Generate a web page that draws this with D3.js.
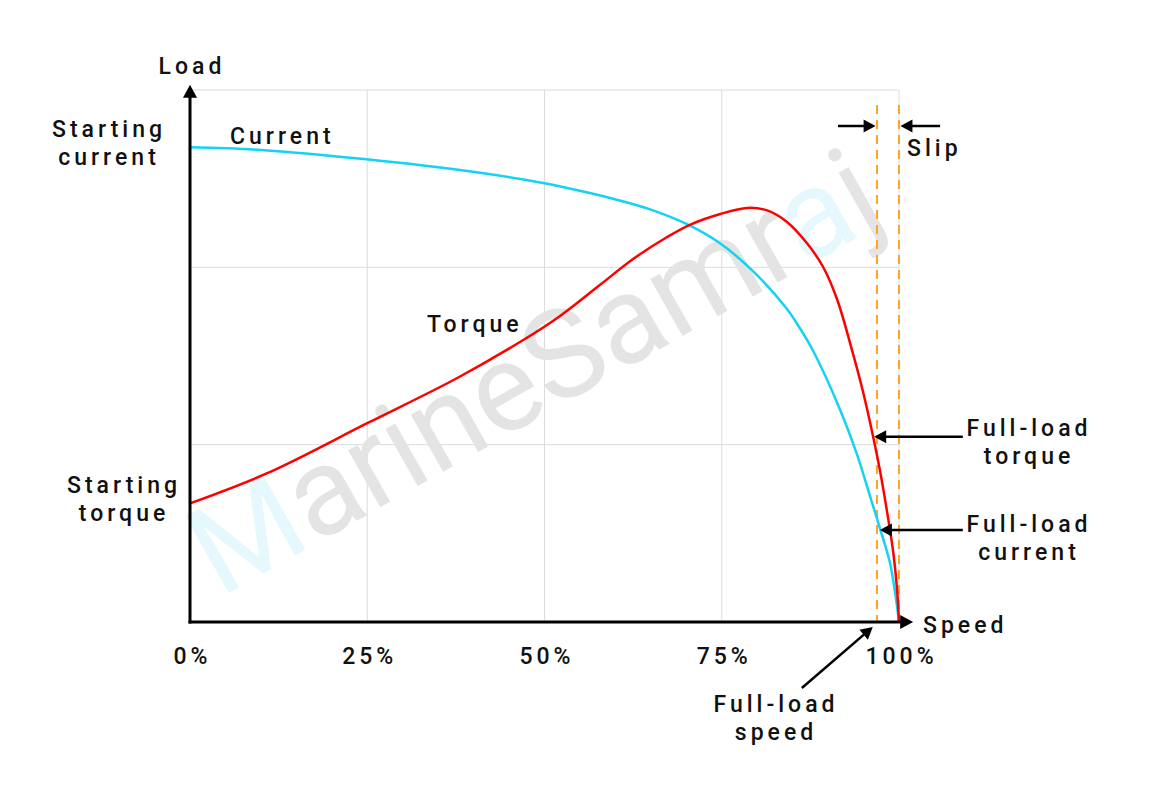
<!DOCTYPE html>
<html>
<head>
<meta charset="utf-8">
<script src="https://cdn.jsdelivr.net/npm/d3@7"></script>
<style>
  body { margin: 0; background: #fff; }
  text { font-family: Roboto, "Open Sans", sans-serif; }
</style>
</head>
<body>
<div id="graph"></div>
<script>
/* motor load vs speed curves */
const speedTicks = [0, 25, 50, 75, 100];
const loadGrid = [1, 2, 3];

const currentSpeed = [0, 10.0, 24.9, 39.9, 49.8, 56.4, 60.6, 64.9, 70.1, 74.8, 79.4, 84.2, 86.0, 87.9, 91.7, 94.1, 95.9, 97.3, 98.7, 99.5, 100];
const currentLoad = [2.677, 2.662, 2.609, 2.539, 2.476, 2.419, 2.377, 2.327, 2.243, 2.134, 1.979, 1.765, 1.658, 1.528, 1.196, 0.942, 0.711, 0.530, 0.338, 0.152, 0];

const torqueSpeed = [0, 10.9, 25.0, 37.7, 47.0, 52.2, 57.8, 62.5, 67.3, 70.5, 74.8, 78.6, 81.4, 84.2, 87.0, 89.3, 91.3, 93.1, 94.9, 96.3, 97.3, 98.3, 99.2, 99.7, 100];
const torqueLoad = [0.669, 0.839, 1.121, 1.376, 1.590, 1.726, 1.900, 2.047, 2.171, 2.240, 2.301, 2.335, 2.321, 2.256, 2.137, 2.002, 1.816, 1.573, 1.303, 1.055, 0.857, 0.626, 0.389, 0.197, 0];

const fullLoadSpeed = 96.9;
const syncSpeed = 100;
const fullLoadTorque = 1.045;
const fullLoadCurrent = 0.519;

window.addEventListener("DOMContentLoaded", main)

function main() {
    const W = 1152, H = 796;
    const svg = d3.select("#graph").append("svg").attr("width", W).attr("height", H)

    const x = d3.scaleLinear().domain([0, 100]).range([190, 899]);
    const y = d3.scaleLinear().domain([0, 3]).range([622, 90]);

    // grid
    const grid = svg.append("g").attr("stroke", "#dcdcdc").attr("stroke-width", 1);
    grid.selectAll(".vg").data(speedTicks.slice(1)).enter().append("line")
        .attr("x1", d => x(d)).attr("x2", d => x(d))
        .attr("y1", y(0)).attr("y2", y(3));
    grid.selectAll(".hg").data(loadGrid).enter().append("line")
        .attr("x1", x(0)).attr("x2", x(100))
        .attr("y1", d => y(d)).attr("y2", d => y(d));

    // watermark
    const wm = svg.append("text")
        .attr("transform", "translate(220,598) rotate(-29.5)")
        .attr("font-size", 124)
        .attr("fill", "#e4e4e4");
    wm.append("tspan").attr("fill", "#e4f8fd").text("M");
    wm.append("tspan").text("arineSamr");
    wm.append("tspan").attr("fill", "#e4f8fd").text("a");
    wm.append("tspan").text("j");

    // orange dashed lines: full-load speed and synchronous speed
    svg.selectAll(".dash").data([fullLoadSpeed, syncSpeed]).enter().append("line")
        .attr("x1", d => x(d)).attr("x2", d => x(d))
        .attr("y1", y(2.915)).attr("y2", y(0))
        .attr("stroke", "#ffa42b").attr("stroke-width", 2)
        .attr("stroke-dasharray", "9,6");

    // curves
    const line = d3.line().x(d => x(d[0])).y(d => y(d[1])).curve(d3.curveCatmullRom.alpha(0.5));
    svg.append("path")
        .datum(d3.zip(currentSpeed, currentLoad))
        .attr("d", line)
        .attr("fill", "none").attr("stroke", "#14d3f2").attr("stroke-width", 2.5);
    svg.append("path")
        .datum(d3.zip(torqueSpeed, torqueLoad))
        .attr("d", line)
        .attr("fill", "none").attr("stroke", "#ff0000").attr("stroke-width", 2.5);

    // axes
    const xAxis = d3.axisBottom(x).tickValues(speedTicks).tickSize(0).tickPadding(26)
        .tickFormat(d => d + "%");
    const gx = svg.append("g").attr("transform", "translate(0," + y(0) + ")").call(xAxis);
    gx.select(".domain").remove();
    gx.selectAll("text").attr("font-size", 23).attr("font-weight", 500)
        .attr("letter-spacing", 4).attr("fill", "#111").style("font-family", "Roboto")
        .attr("dx", 2);

    arrow(svg, x(0), y(0) + 1.5, x(0), y(3.03), 13, 14, 3);
    arrow(svg, x(0) - 1.5, y(0), x(102), y(0), 13, 14, 3);

    // annotation arrows
    arrow(svg, x(91.4), y(2.797), x(96.7), y(2.797), 12, 13, 2.5);
    arrow(svg, x(105.8), y(2.797), x(100.2), y(2.797), 12, 13, 2.5);
    arrow(svg, x(109), y(fullLoadTorque), x(96.5), y(fullLoadTorque), 12, 13, 2.5);
    arrow(svg, x(109), y(fullLoadCurrent), x(97.3), y(fullLoadCurrent), 12, 13, 2.5);
    arrow(svg, x(86.3), y(-0.372), x(96.3), y(-0.028), 12, 13, 2.5);

    // labels
    const labels = [
        { t: ["Load"], x: 192, y: 74, a: "middle" },
        { t: ["Starting", "current"], x: 109, y: 137, a: "middle" },
        { t: ["Current"], x: 230, y: 144, a: "start" },
        { t: ["Torque"], x: 427, y: 332, a: "start" },
        { t: ["Starting", "torque"], x: 124, y: 493, a: "middle" },
        { t: ["Speed"], x: 923, y: 633, a: "start" },
        { t: ["Slip"], x: 907, y: 156, a: "start" },
        { t: ["Full-load", "torque"], x: 1029, y: 436, a: "middle" },
        { t: ["Full-load", "current"], x: 1029, y: 532, a: "middle" },
        { t: ["Full-load", "speed"], x: 776, y: 712, a: "middle" }
    ];
    labels.forEach(l => {
        const t = svg.append("text")
            .attr("x", l.x).attr("y", l.y)
            .attr("text-anchor", l.a)
            .attr("font-size", 23).attr("font-weight", 500)
            .attr("letter-spacing", 4).attr("fill", "#111");
        l.t.forEach((s, i) => {
            t.append("tspan").attr("x", l.x).attr("dy", i == 0 ? 0 : 27.5).text(s);
        });
    });
}

// line with a filled triangular head at (x2,y2)
function arrow(svg, x1, y1, x2, y2, len, wid, sw) {
    const dx = x2 - x1, dy = y2 - y1;
    const L = Math.sqrt(dx * dx + dy * dy);
    const ux = dx / L, uy = dy / L;
    const bx = x2 - ux * len, by = y2 - uy * len;
    svg.append("line")
        .attr("x1", x1).attr("y1", y1).attr("x2", bx + ux).attr("y2", by + uy)
        .attr("stroke", "#000").attr("stroke-width", sw);
    const px = -uy * wid / 2, py = ux * wid / 2;
    svg.append("path")
        .attr("d", "M" + x2 + "," + y2 + "L" + (bx + px) + "," + (by + py) + "L" + (bx - px) + "," + (by - py) + "Z")
        .attr("fill", "#000");
}
</script>
</body>
</html>
